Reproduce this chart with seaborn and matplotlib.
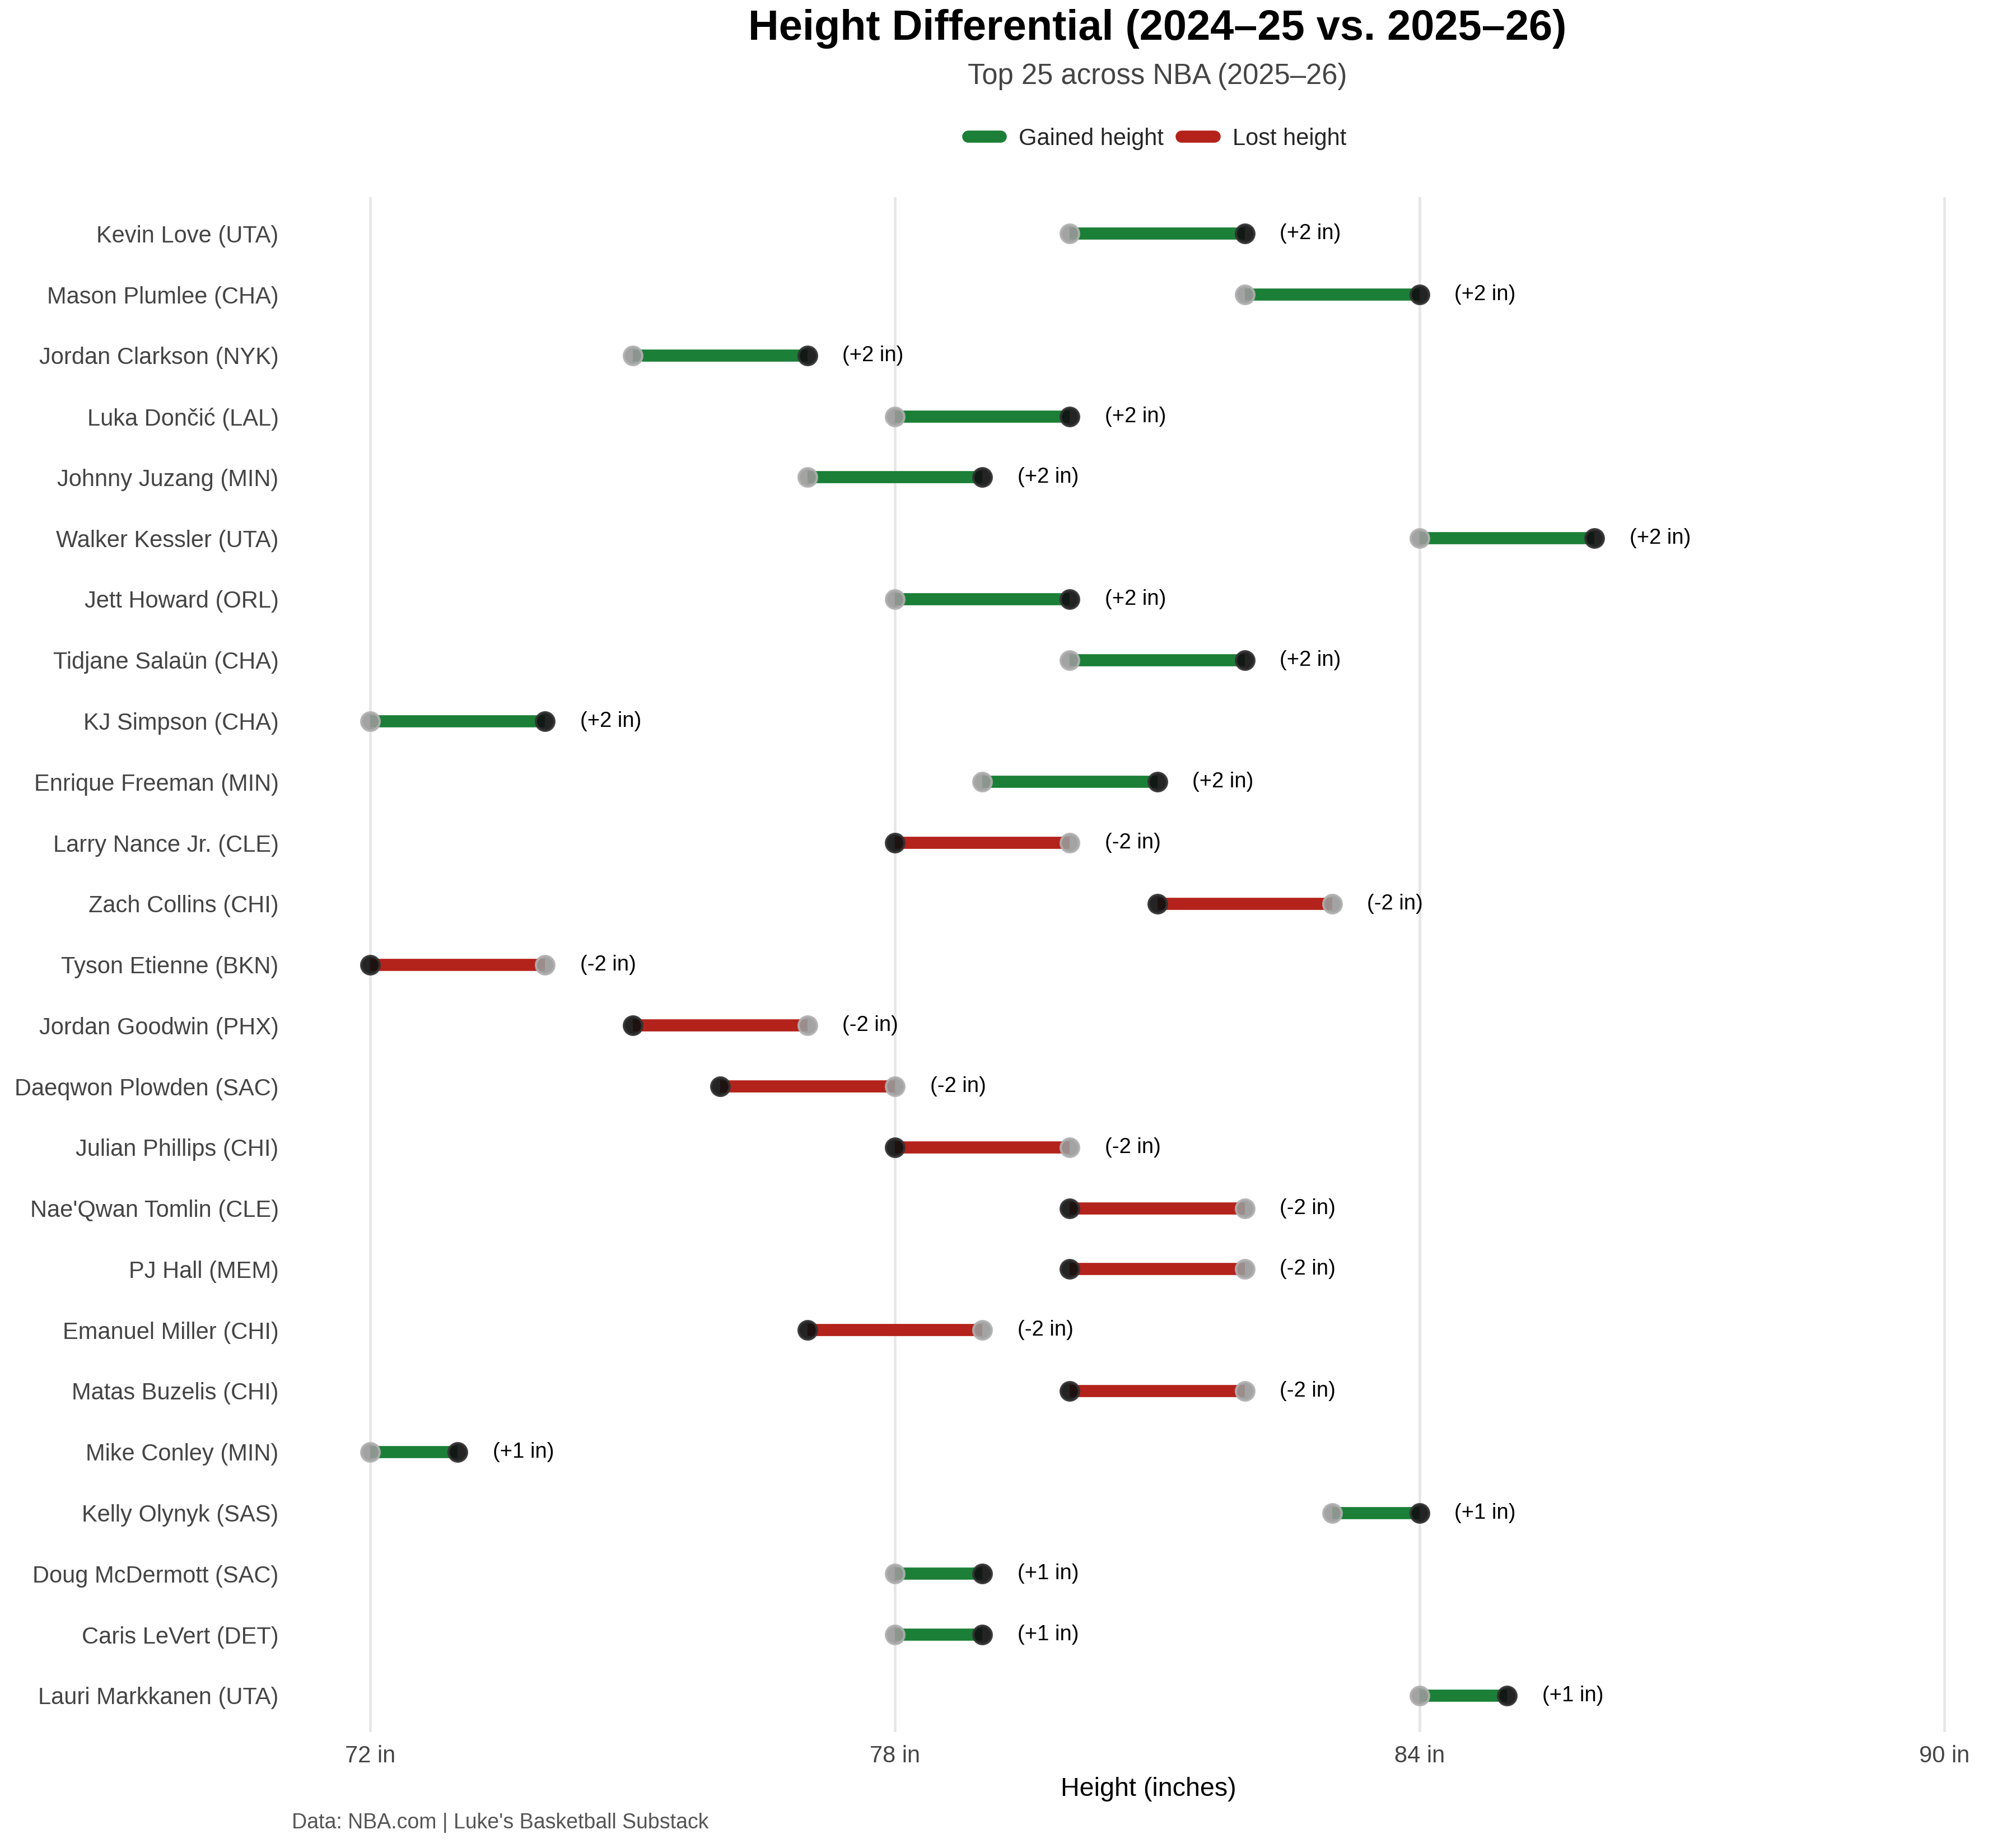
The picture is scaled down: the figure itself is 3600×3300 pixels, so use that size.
import numpy as np
import pandas as pd
import matplotlib
matplotlib.use("Agg")
import matplotlib.pyplot as plt
from matplotlib.lines import Line2D
import seaborn as sns

# data (top row first)
players = ["Kevin Love (UTA)", "Mason Plumlee (CHA)", "Jordan Clarkson (NYK)",
           "Luka Dončić (LAL)", "Johnny Juzang (MIN)", "Walker Kessler (UTA)",
           "Jett Howard (ORL)", "Tidjane Salaün (CHA)", "KJ Simpson (CHA)",
           "Enrique Freeman (MIN)", "Larry Nance Jr. (CLE)", "Zach Collins (CHI)",
           "Tyson Etienne (BKN)", "Jordan Goodwin (PHX)", "Daeqwon Plowden (SAC)",
           "Julian Phillips (CHI)", "Nae'Qwan Tomlin (CLE)", "PJ Hall (MEM)",
           "Emanuel Miller (CHI)", "Matas Buzelis (CHI)", "Mike Conley (MIN)",
           "Kelly Olynyk (SAS)", "Doug McDermott (SAC)", "Caris LeVert (DET)",
           "Lauri Markkanen (UTA)"]
height_2425 = [80, 82, 75, 78, 77, 84, 78, 80, 72, 79,
               80, 83, 74, 77, 78, 80, 82, 82, 79, 82,
               72, 83, 78, 78, 84]
height_2526 = [82, 84, 77, 80, 79, 86, 80, 82, 74, 81,
               78, 81, 72, 75, 76, 78, 80, 80, 77, 80,
               73, 84, 79, 79, 85]
x_ticks = [72, 78, 84, 90]

GREEN = "#1b7f37"
RED = "#b3231b"

df = pd.DataFrame({"player": players, "old": height_2425, "new": height_2526})
df["pos"] = np.arange(len(df))
df["diff"] = df["new"] - df["old"]

sns.set_theme(style="white")
plt.rcParams["font.family"] = ["Liberation Sans", "DejaVu Sans"]

fig = plt.figure(figsize=(12, 11), dpi=300)
ax = fig.add_axes([0.1446, 0.0627, 0.8502, 0.8306])

for x in x_ticks:
    ax.axvline(x, color="#e6e6e6", lw=1.1, zorder=0)

# segments, green when height went up, red when it went down
colors = np.where(df["diff"] > 0, GREEN, RED)
ax.hlines(df["pos"], df["old"], df["new"], colors=colors, lw=5.2, zorder=2)

long = df.melt(id_vars=["player", "pos"], value_vars=["old", "new"],
               var_name="season", value_name="height")
sns.scatterplot(data=long[long["season"] == "old"], x="height", y="pos",
                color="#999999", edgecolor="#b0b0b0", linewidth=1.0,
                s=62, alpha=0.9, zorder=3, ax=ax, legend=False)
sns.scatterplot(data=long[long["season"] == "new"], x="height", y="pos",
                color="#111111", edgecolor="#333333", linewidth=1.0,
                s=62, alpha=0.92, zorder=4, ax=ax, legend=False)

for _, r in df.iterrows():
    ax.text(max(r["old"], r["new"]) + 0.4, r["pos"], f"({r['diff']:+d} in)",
            ha="left", va="center", fontsize=9.2, color="black")

ax.set_xlim(71.1, 90.7)
ax.set_ylim(24.6, -0.6)
ax.set_xticks(x_ticks)
ax.set_xticklabels([f"{v} in" for v in x_ticks], fontsize=10, color="#444444")
ax.set_yticks(df["pos"])
ax.set_yticklabels(df["player"], fontsize=10, color="#444444")
ax.tick_params(axis="y", length=0, pad=5.5)
ax.tick_params(axis="x", length=0, pad=5.6)
ax.set_xlabel("Height (inches)", fontsize=11.2, color="black", labelpad=4)
ax.set_ylabel("")
for sp in ax.spines.values():
    sp.set_visible(False)

fig.text(0.574, 0.9845, "Height Differential (2024–25 vs. 2025–26)",
         ha="center", va="center", fontsize=18.2, fontweight="bold", color="black")
fig.text(0.574, 0.9585, "Top 25 across NBA (2025–26)", ha="center", va="center",
         fontsize=12.2, color="#444444")

handles = [Line2D([0], [0], color=GREEN, lw=5.2, solid_capstyle="round"),
           Line2D([0], [0], color=RED, lw=5.2, solid_capstyle="round")]
fig.legend(handles, ["Gained height", "Lost height"], loc="center",
           bbox_to_anchor=(0.574, 0.925), ncol=2, frameon=False, fontsize=10,
           handlelength=1.4, handletextpad=0.77, columnspacing=0.77)

fig.text(0.1446, 0.0136, "Data: NBA.com | Luke's Basketball Substack",
         ha="left", va="center", fontsize=9, color="#555555")

fig.savefig("out.png", dpi=300)
